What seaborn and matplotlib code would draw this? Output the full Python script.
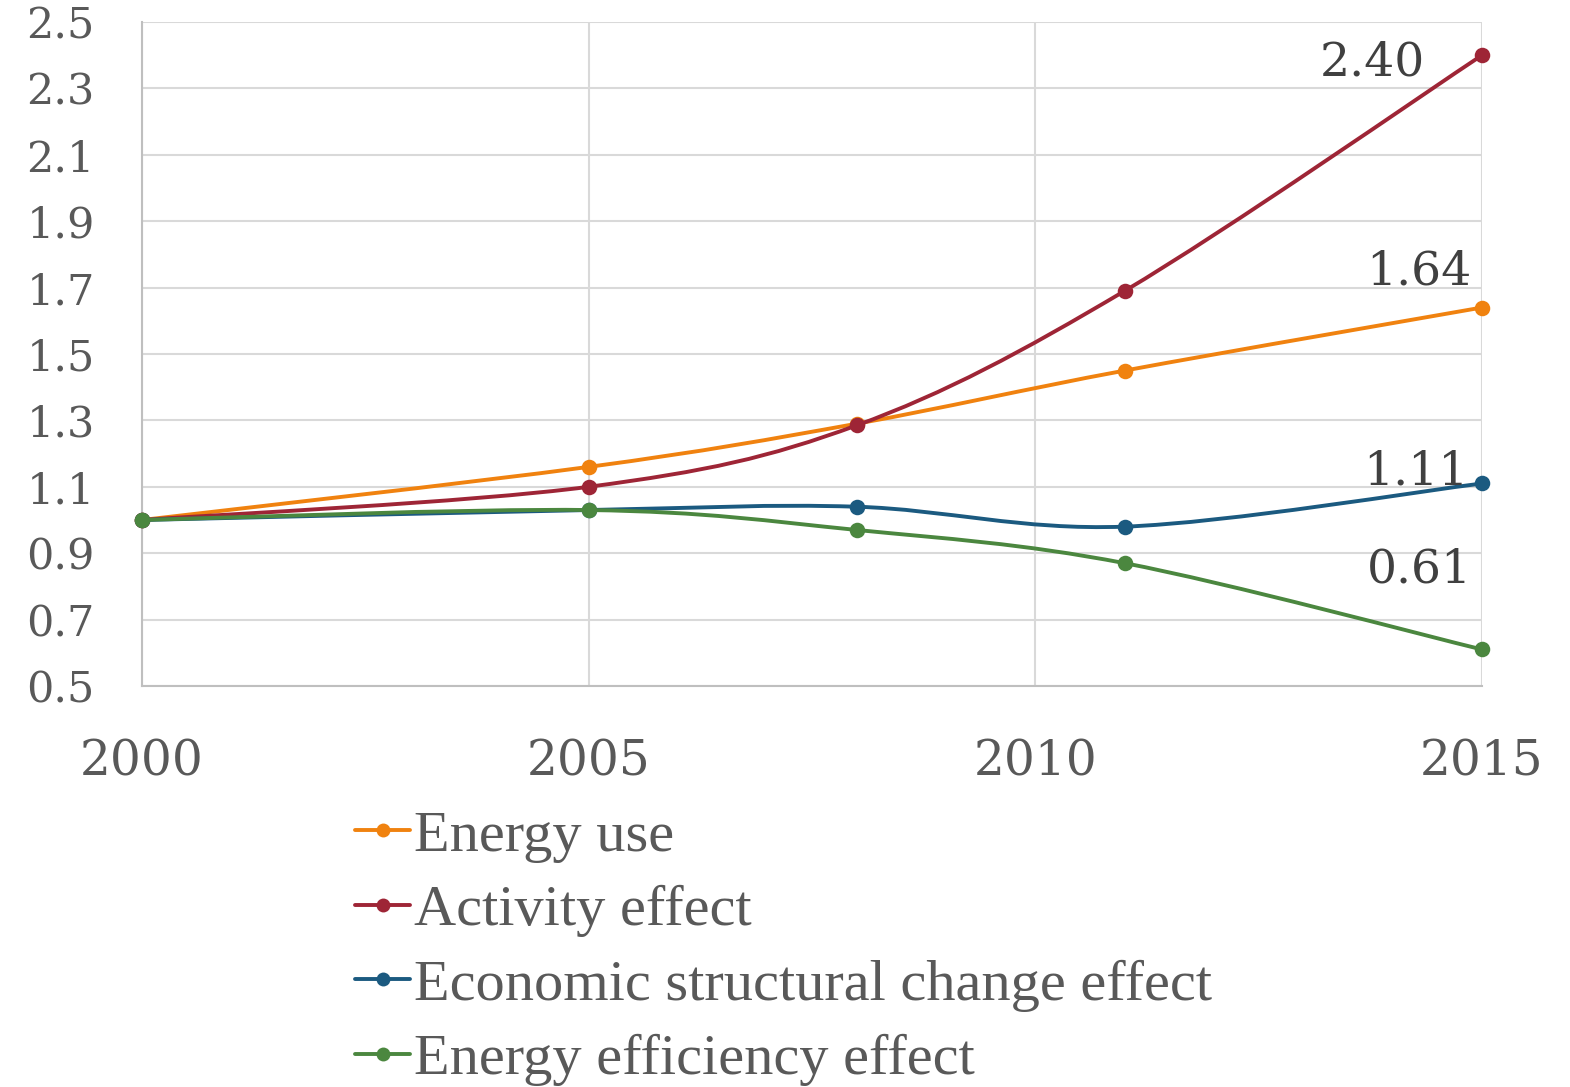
import numpy as np
import pandas as pd
import matplotlib
matplotlib.use("Agg")
import matplotlib.pyplot as plt
import seaborn as sns
from matplotlib.path import Path
from matplotlib.patches import PathPatch
from matplotlib.lines import Line2D

# Index values (2000 = 1.0)
years = [2000, 2005, 2008, 2011, 2015]
energy_use = [1.00, 1.16, 1.29, 1.45, 1.64]
activity_effect = [1.00, 1.10, 1.285, 1.69, 2.40]
structural_effect = [1.00, 1.03, 1.04, 0.98, 1.11]
efficiency_effect = [1.00, 1.03, 0.97, 0.87, 0.61]

series_names = ["Energy use", "Activity effect",
                "Economic structural change effect", "Energy efficiency effect"]
series_values = [energy_use, activity_effect, structural_effect, efficiency_effect]
series_colors = ["#F0820F", "#9E2536", "#1B5A80", "#4B873F"]

x_ticks = [2000, 2005, 2010, 2015]
y_ticks = [0.5, 0.7, 0.9, 1.1, 1.3, 1.5, 1.7, 1.9, 2.1, 2.3, 2.5]
y_tick_labels = ["0.5", "0.7", "0.9", "1.1", "1.3", "1.5", "1.7", "1.9", "2.1", "2.3", "2.5"]

# end-of-line value labels: offset (pixels) from the 2015 point
end_label_offsets = [(-11, 36), (-57, -8), (-13, 12), (-10, 80)]

sns.set_theme(style="white")
plt.rcParams["font.family"] = ["DejaVu Serif"]

TICK_COLOR = "#595959"
GRID_COLOR = "#D9D9D9"
SPINE_COLOR = "#BFBFBF"

fig = plt.figure(figsize=(15.7, 10.87), dpi=100)
ax = fig.add_axes([142 / 1570, 1 - 686 / 1087, (1482 - 142) / 1570, (686 - 22) / 1087])


def smooth_path(xs, ys):
    """Cubic Bezier path through the points (cardinal-spline style smoothing)."""
    pts = np.column_stack([xs, ys]).astype(float)
    n = len(pts)
    verts = [pts[0]]
    codes = [Path.MOVETO]
    for i in range(n - 1):
        p0 = pts[i - 1] if i > 0 else pts[i]
        p1 = pts[i]
        p2 = pts[i + 1]
        p3 = pts[i + 2] if i + 2 < n else pts[i + 1]
        c1 = p1 + (p2 - p0) / 6.0
        c2 = p2 - (p3 - p1) / 6.0
        verts += [c1, c2, p2]
        codes += [Path.CURVE4] * 3
    return Path(verts, codes)


rows = []
for name, vals in zip(series_names, series_values):
    for yr, v in zip(years, vals):
        rows.append({"year": yr, "value": v, "series": name})
df = pd.DataFrame(rows)

for k, (name, vals, col) in enumerate(zip(series_names, series_values, series_colors)):
    patch = PathPatch(smooth_path(years, vals), facecolor="none", edgecolor=col,
                      lw=2.8, zorder=3 + 2 * k, capstyle="round", joinstyle="round")
    ax.add_patch(patch)
    sub = df[df["series"] == name]
    sns.scatterplot(data=sub, x="year", y="value", color=col, s=125,
                    edgecolor=col, linewidth=0, ax=ax, zorder=4 + 2 * k,
                    clip_on=False, legend=False)

for vals, (dx, dy) in zip(series_values, end_label_offsets):
    ax.annotate(f"{vals[-1]:.2f}", xy=(years[-1], vals[-1]), xytext=(dx, dy),
                textcoords="offset pixels", ha="right", va="center",
                fontsize=34, color="#404040", zorder=20)

ax.set_xlim(2000, 2015)
ax.set_ylim(0.5, 2.5)
ax.set_xticks(x_ticks)
ax.set_xticklabels([str(t) for t in x_ticks])
ax.set_yticks(y_ticks)
ax.set_yticklabels(y_tick_labels)
ax.set_xlabel("")
ax.set_ylabel("")

ax.grid(True, color=GRID_COLOR, lw=1.5)
ax.set_axisbelow(True)
for side in ["top", "right"]:
    ax.spines[side].set_visible(False)
for side in ["left", "bottom"]:
    ax.spines[side].set_color(SPINE_COLOR)
    ax.spines[side].set_linewidth(1.5)
    ax.spines[side].set_zorder(2)

ax.tick_params(axis="both", length=0, colors=TICK_COLOR)
ax.tick_params(axis="x", pad=38, labelsize=35)
ax.tick_params(axis="y", pad=34, labelsize=31)

handles = [Line2D([0], [0], color=c, lw=2.8, marker="o", markersize=10,
                  markeredgewidth=0) for c in series_colors]
fig.legend(handles, series_names, loc="upper left",
           bbox_to_anchor=(355 / 1570, 1 - 810 / 1087), frameon=False,
           prop={"family": "Liberation Serif", "size": 42},
           labelcolor=TICK_COLOR, handlelength=0.95, handletextpad=0.07,
           labelspacing=0.37, borderpad=0, borderaxespad=0)

fig.savefig("out.png", dpi=100, facecolor="white")
